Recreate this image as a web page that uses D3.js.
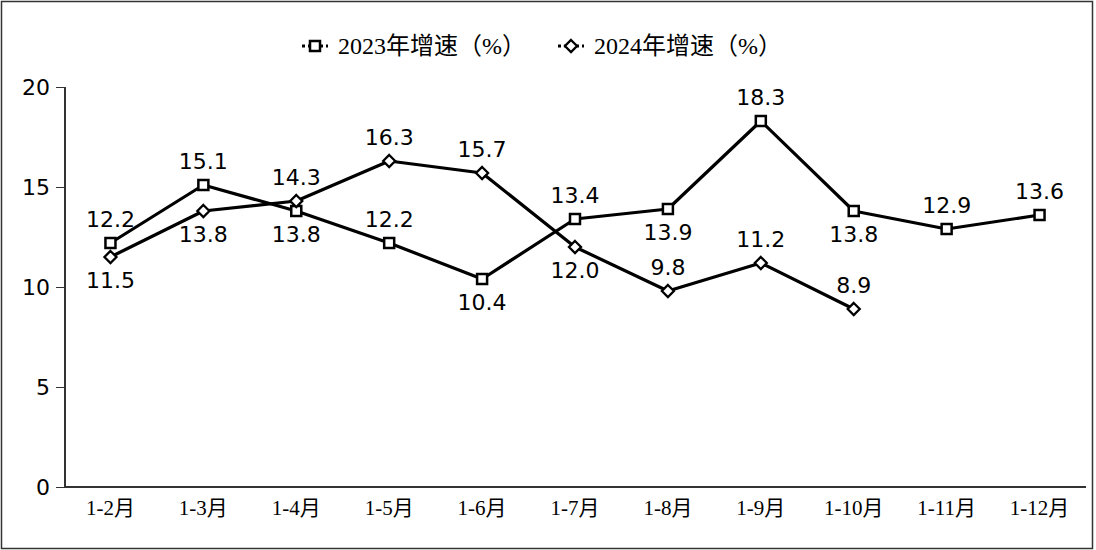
<!DOCTYPE html>
<html>
<head>
<meta charset="utf-8">
<script src="https://cdn.jsdelivr.net/npm/d3@7"></script>
<style>
  body { margin: 0; background: #fff; }
  text { fill: #000; }
</style>
</head>
<body>
<script>
let width = 1096;
let height = 550;

var months = ['1-2月', '1-3月', '1-4月', '1-5月', '1-6月', '1-7月', '1-8月', '1-9月', '1-10月', '1-11月', '1-12月'];
var growth2023 = [12.2, 15.1, 13.8, 12.2, 10.4, 13.4, 13.9, 18.3, 13.8, 12.9, 13.6];
var growth2024 = [11.5, 13.8, 14.3, 16.3, 15.7, 12.0, 9.8, 11.2, 8.9];
// label above (-1) or below (1) the point
var pos2023 = [-1, -1, 1, -1, 1, -1, 1, -1, 1, -1, -1];
var pos2024 = [1, 1, -1, -1, -1, 1, -1, -1, -1];
var yTicks = [0, 5, 10, 15, 20];

var serif = '"Liberation Serif", "Noto Sans CJK SC", serif';
var sans = '"DejaVu Sans", Verdana, sans-serif';

var svg = d3.select('body')
            .append('svg')
            .attr('width', width)
            .attr('height', height);

svg.append('rect').attr('x', 1.5).attr('y', 1.5).attr('width', width - 5).attr('height', height - 3)
   .attr('fill', 'none').attr('stroke', '#333').attr('stroke-width', 1.5);

var x = d3.scaleBand().domain(months).range([64, 1086]);
var y = d3.scaleLinear().domain([0, 20]).range([487, 87]);

// y axis
var yAxis = svg.append('g').attr('transform', 'translate(65,0)')
   .call(d3.axisLeft(y).tickValues(yTicks).tickSize(9).tickPadding(6));
yAxis.select('.domain').attr('stroke', '#333').attr('stroke-width', 2).attr('d', 'M0,87V487');
yAxis.selectAll('line').attr('stroke', '#333').attr('stroke-width', 1);
yAxis.selectAll('text').style('font-family', sans).style('font-size', '22px').attr('fill', '#000');

// x axis
var xAxis = svg.append('g').attr('transform', 'translate(0,487)')
   .call(d3.axisBottom(x).tickSize(0).tickPadding(13));
xAxis.select('.domain').attr('stroke', '#333').attr('stroke-width', 2).attr('d', 'M64,0H1086');
xAxis.selectAll('text').style('font-family', serif).style('font-size', '21px').attr('fill', '#000');

function cx(i) { return x(months[i]) + x.bandwidth() / 2; }

var line = d3.line().x(function(d, i) { return cx(i); }).y(function(d) { return y(d); });

function drawSeries(data, shape, pos) {
  svg.append('path').datum(data).attr('d', line)
     .attr('fill', 'none').attr('stroke', '#000').attr('stroke-width', 3.2).attr('stroke-linejoin', 'round');

  data.forEach(function(v, i) {
    drawMarker(svg, cx(i), y(v), shape);
    svg.append('text').attr('x', cx(i)).attr('y', y(v) + (pos[i] < 0 ? -16 : 31))
       .attr('text-anchor', 'middle').style('font-family', sans).style('font-size', '22px')
       .text(v.toFixed(1));
  });
}

function drawMarker(g, px, py, shape) {
  if (shape === 'square') {
    g.append('rect').attr('x', px - 5).attr('y', py - 5).attr('width', 10).attr('height', 10)
     .attr('fill', '#fff').attr('stroke', '#000').attr('stroke-width', 2.5);
  } else {
    g.append('path').attr('d', 'M' + px + ',' + (py - 6) + 'L' + (px + 6) + ',' + py + 'L' + px + ',' + (py + 6) + 'L' + (px - 6) + ',' + py + 'Z')
     .attr('fill', '#fff').attr('stroke', '#000').attr('stroke-width', 2.3);
  }
}

drawSeries(growth2023, 'square', pos2023);
drawSeries(growth2024, 'diamond', pos2024);

// legend
var legendItems = [
  { name: '2023年增速（%）', shape: 'square', x: 302 },
  { name: '2024年增速（%）', shape: 'diamond', x: 558 }
];
legendItems.forEach(function(d) {
  svg.append('line').attr('x1', d.x).attr('x2', d.x + 26).attr('y1', 46).attr('y2', 46)
     .attr('stroke', '#000').attr('stroke-width', 3).attr('stroke-dasharray', '3,3');
  drawMarker(svg, d.x + 13, 46, d.shape);
  svg.append('text').attr('x', d.x + 36).attr('y', 54)
     .style('font-family', serif).style('font-size', '24px').text(d.name);
});
</script>
</body>
</html>
